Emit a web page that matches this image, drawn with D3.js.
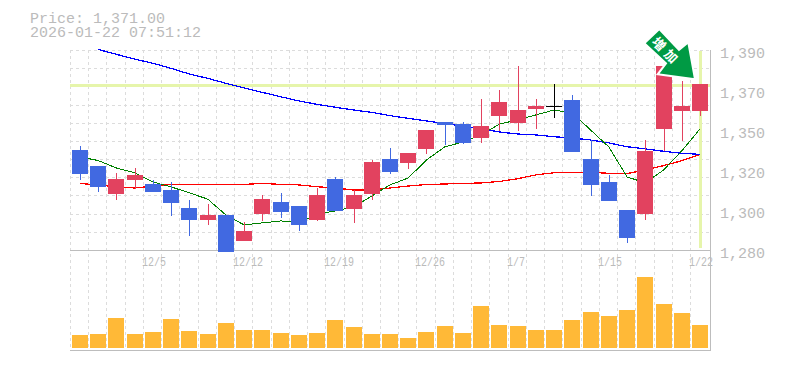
<!DOCTYPE html>
<html><head><meta charset="utf-8">
<script src="https://cdn.jsdelivr.net/npm/d3@7"></script>
<style>html,body{margin:0;padding:0;background:#fff}svg{display:block}</style>
</head><body><div id="c"></div>
<script>
const titleLines = ["Price: 1,371.00", "2026-01-22 07:51:12"];
const priceTicks = [1280,1302,1324,1346,1368,1390];
const priceLabels = ["1,280","1,300","1,320","1,350","1,370","1,390"];
const dateLabels = [[4,"12/5"],[9,"12/12"],[14,"12/19"],[19,"12/26"],[24,"1/7"],[29,"1/15"],[34,"1/22"]];
const lastPrice = 1371;
const open  = [1335,1326.2,1310.8,1318.5,1316.3,1313,1303.1,1296.5,1299.3,1285,1299.8,1306.4,1304.2,1296.5,1319,1302.6,1310.8,1330,1327.9,1335.6,1350.4,1349.3,1341.6,1353.7,1349.9,1357.6,1359.2,1362.5,1330,1317.4,1302,1299.8,1346.6,1356.5,1356.5];
const high  = [1337.2,1326.2,1322.4,1325.1,1318.5,1317.4,1307.5,1305.3,1299.3,1295.4,1310.3,1311.4,1304.2,1314.1,1320.2,1313,1329.5,1336.1,1333.4,1346,1350.4,1350.4,1363,1368,1381.2,1363,1371.3,1365.3,1340.5,1321.3,1302,1340.5,1381.2,1373,1371.3];
const low   = [1318.5,1311.9,1307.5,1313.6,1311.9,1298.7,1287.7,1293.8,1278.9,1285,1296,1297.6,1290.5,1296,1301.5,1294.9,1307.5,1321.8,1324.6,1332.8,1337.8,1338.3,1338.9,1345.5,1345.5,1346.6,1352.6,1333.9,1309.7,1307,1283.9,1296.5,1334.5,1340,1353.7];
const close = [1321.8,1314.7,1319,1321.3,1311.9,1305.9,1296.5,1299.3,1278.9,1290.5,1308,1300.9,1293.8,1310.3,1301.5,1310.3,1328.4,1322.9,1333.4,1346,1348.8,1338.9,1348.2,1361.4,1357,1359.2,1359.2,1333.9,1315.8,1307,1286.6,1334.5,1381.2,1359.2,1371.3];
const ma5   = [1331.2,1329.2,1325.1,1322.5,1317.4,1314.7,1311.4,1308,1299.3,1293.8,1294.9,1296,1294.9,1299.8,1301.5,1303.7,1309.7,1315.8,1319.6,1329.5,1336.7,1339.4,1343.3,1349.3,1351.5,1354.3,1357,1355.4,1346,1336.7,1320.2,1316.9,1324,1334.5,1346.6];
const ma25  = [1316.6,1315.8,1314.7,1314.1,1315.2,1316,1316.1,1316.1,1316.1,1316.1,1316.6,1316.1,1315.8,1314.8,1314.1,1313,1313,1314.1,1315.2,1316,1316.3,1316.6,1316.9,1317.7,1319.2,1321.3,1322.5,1322.7,1322.7,1322.2,1322,1324,1326.4,1329.1,1332.6];
const ma75  = [null,1390.3,1387.6,1385,1382.7,1379.9,1376.8,1374.4,1371.7,1369.1,1366.7,1364.3,1362,1360.1,1358.5,1357,1355.7,1353.9,1352.4,1351,1349.5,1348.2,1346.8,1344.9,1343.8,1343.3,1342.3,1341.6,1340.5,1338.9,1336.8,1335.6,1334.3,1333.2,1332.6];
const volume = [13,14,30,14,16,29,17,14,25,18,18,15,13,15,28,21,14,14,10,16,22,15,42,23,22,18,18,28,36,32,38,71,44,35,23];
const arrowText = "増加";

const W=785,H=370;
const svg=d3.select("#c").append("svg").attr("width",W).attr("height",H);
const idx=d3.range(open.length);
const x=d3.scaleLinear().domain([0,34]).range([80,700]);
const y=d3.scaleLinear().domain([1280,1390]).range([250,50]);
const yv=d3.scaleLinear().domain([0,71]).range([348,277]);
const X=i=>Math.round(x(i));
const grid="#dcdcdc", axis="#bdbdbd", txt="#bbbbbb", band="#e6f5ab";
const up="#e2425f", dn="#4169e1";
const mono="'Liberation Mono',monospace";

// grid
const g=svg.append("g").attr("stroke",grid).attr("stroke-dasharray","3,3").attr("shape-rendering","crispEdges");
g.selectAll("line.v").data(idx).join("line").attr("x1",i=>X(i)-10+.5).attr("x2",i=>X(i)-10+.5).attr("y1",50).attr("y2",350);
g.selectAll("line.h").data(d3.range(1290,1391,10)).join("line").attr("x1",70).attr("x2",710).attr("y1",d=>Math.round(y(d))+.5).attr("y2",d=>Math.round(y(d))+.5);

// current price bands
const b=svg.append("g").attr("shape-rendering","crispEdges");
b.append("rect").attr("x",70).attr("width",640).attr("y",Math.round(y(lastPrice))-1).attr("height",3).attr("fill",band);
b.append("rect").attr("x",X(34)-1).attr("width",3).attr("y",51).attr("height",197).attr("fill",band);

// axes frame
const f=svg.append("g").attr("stroke",axis).attr("shape-rendering","crispEdges");
f.append("line").attr("x1",70).attr("x2",711).attr("y1",250.5).attr("y2",250.5);
f.append("line").attr("x1",70).attr("x2",711).attr("y1",350.5).attr("y2",350.5);
f.append("line").attr("x1",710.5).attr("x2",710.5).attr("y1",50).attr("y2",351);

// moving averages
const ln=d3.line().defined(d=>d!=null).x((d,i)=>x(i)).y(d=>y(d));
[[ma25,"#ff0000"],[ma75,"#0000ff"],[ma5,"#008000"]].forEach(([s,c],k)=>{
  svg.append("path").datum(s).attr("d",ln).attr("fill","none").attr("stroke",c)
    .attr("stroke-width",k==2?1:1.25).attr("shape-rendering","crispEdges");
});

// candles
const cg=svg.append("g").attr("shape-rendering","crispEdges");
idx.forEach(i=>{
  const doji=open[i]===close[i], c=doji?"#000":(close[i]>open[i]?up:dn);
  cg.append("line").attr("x1",X(i)+.5).attr("x2",X(i)+.5).attr("y1",y(high[i])).attr("y2",y(low[i])).attr("stroke",c);
  const t=Math.round(y(Math.max(open[i],close[i]))), bt=Math.round(y(Math.min(open[i],close[i])));
  if(doji) cg.append("line").attr("x1",X(i)-8).attr("x2",X(i)+8).attr("y1",t+.5).attr("y2",t+.5).attr("stroke",c);
  else cg.append("rect").attr("x",X(i)-8).attr("width",16).attr("y",t).attr("height",bt-t).attr("fill",c);
});

// volume
svg.append("g").attr("shape-rendering","crispEdges").selectAll("rect").data(volume).join("rect")
  .attr("x",(d,i)=>X(i)-8).attr("width",16).attr("y",d=>yv(d)).attr("height",d=>348-yv(d)).attr("fill","#ffb937");

// texts
svg.selectAll("text.t").data(titleLines).join("text").attr("class","t").attr("x",30).attr("y",(d,i)=>23+i*14)
  .attr("font-family",mono).attr("font-size",15).attr("fill",txt).text(d=>d);
svg.selectAll("text.p").data(priceTicks).join("text").attr("class","p").attr("x",720).attr("y",d=>y(d)+8)
  .attr("font-family",mono).attr("font-size",15).attr("fill",txt).text((d,i)=>priceLabels[i]);
svg.selectAll("text.d").data(dateLabels).join("text").attr("class","d").attr("x",d=>X(d[0])-11).attr("y",266)
  .attr("font-family",mono).attr("font-size",13).attr("fill",txt)
  .attr("textLength",d=>d[1].length*6).attr("lengthAdjust","spacingAndGlyphs").text(d=>d[1]);

// arrow
const arrow=[[644.3,43.3],[659.3,29],[679,50],[688.3,42.3],[695,79.3],[657.7,74.3],[666,63.3]];
svg.append("path").attr("d",d3.line()(arrow)+"Z").attr("fill","#009a44").attr("stroke","#fff").attr("stroke-width",2);
svg.append("text").attr("transform","translate(667,51) rotate(45)").attr("text-anchor","middle").attr("dominant-baseline","central")
  .attr("font-family","'Noto Sans CJK JP'").attr("font-weight","700").attr("font-size",13).attr("letter-spacing",4).attr("fill","#fff").text(arrowText);
</script></body></html>
